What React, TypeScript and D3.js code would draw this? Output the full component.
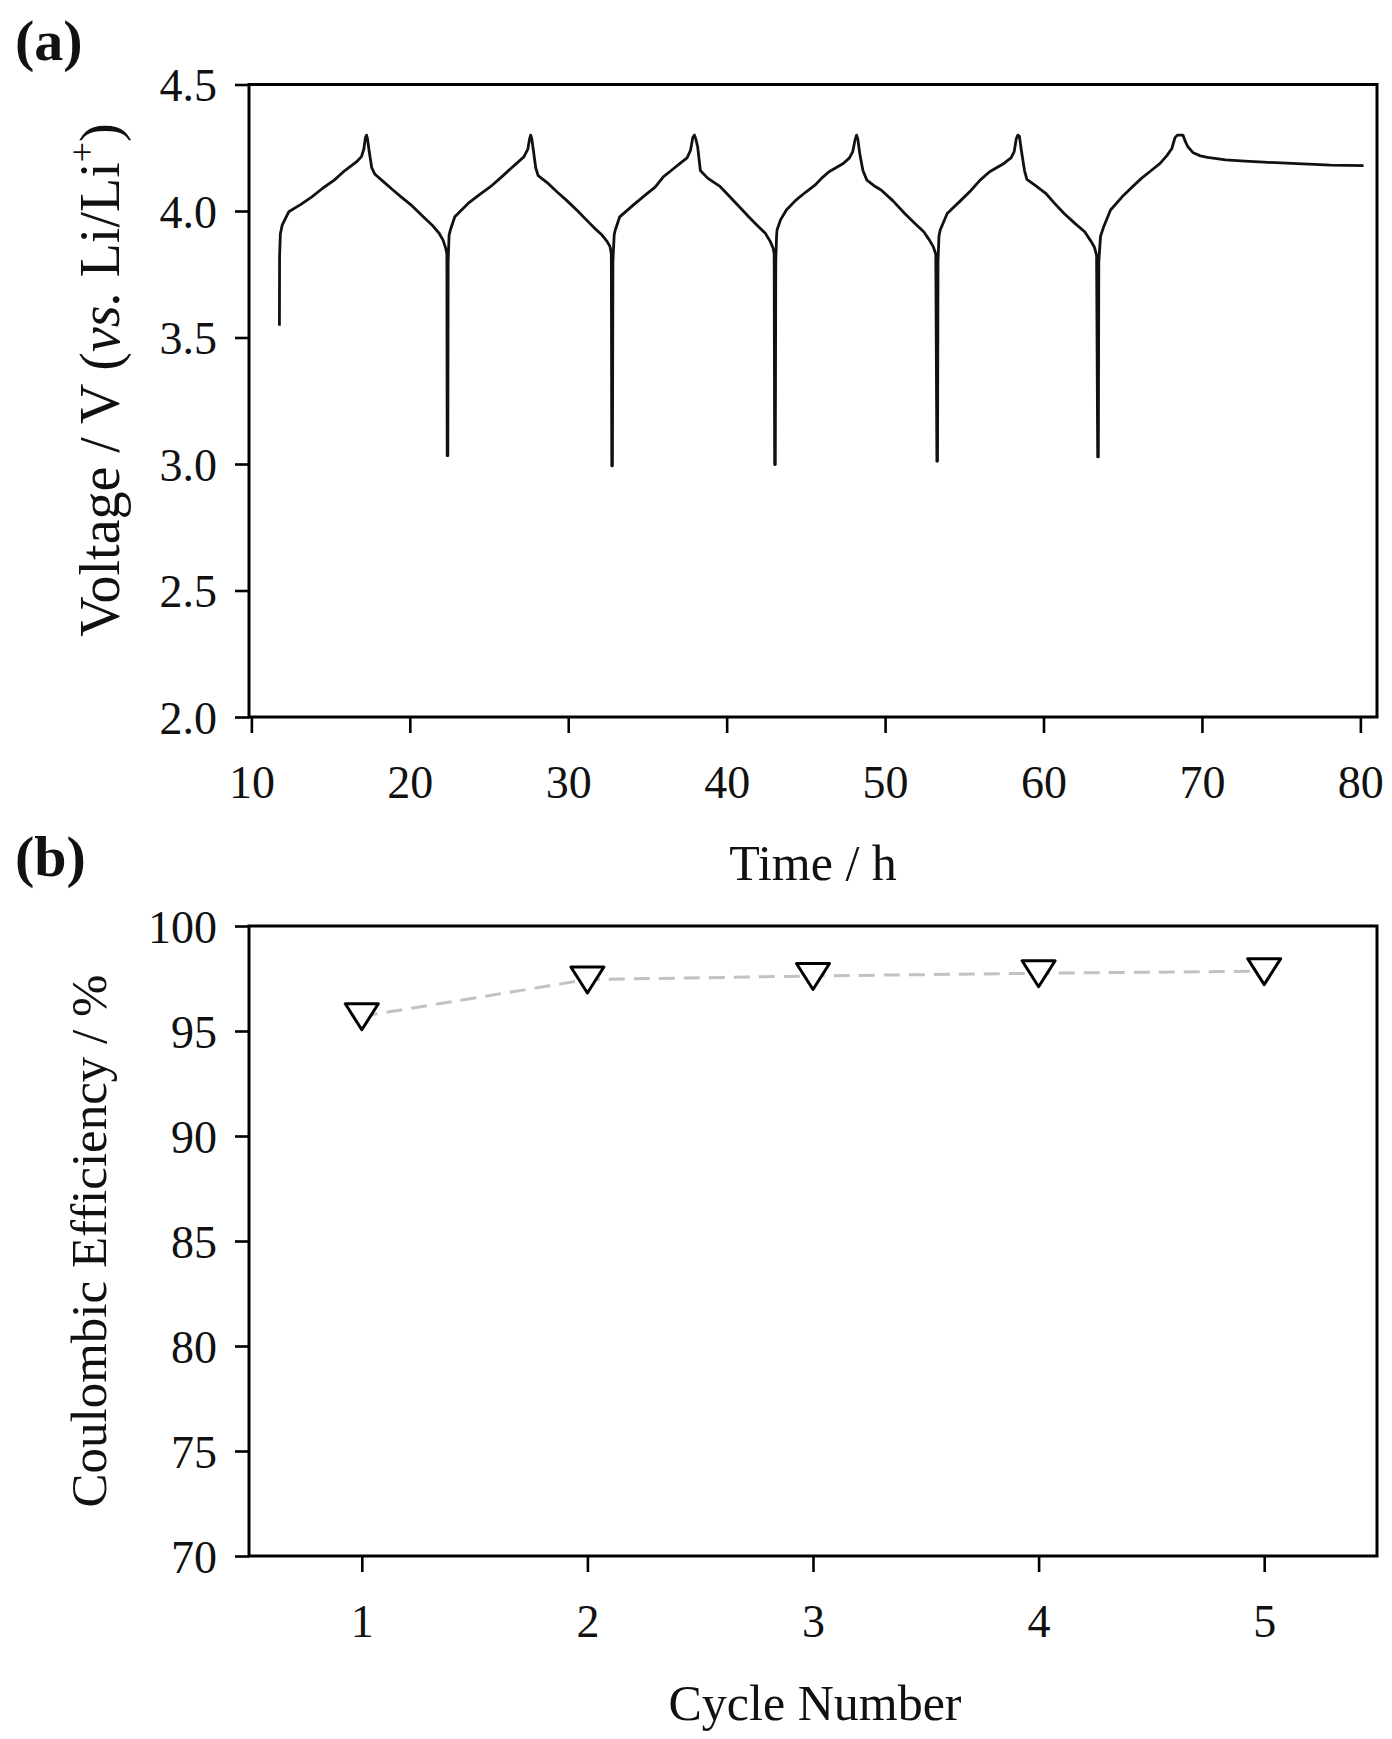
import { useEffect, useRef } from 'react'
import * as d3 from 'd3'

type Pt = [number, number]

// (a) voltage vs time, one array per charge/discharge cycle  [time h, voltage V]
const cycle1: Pt[] = [
  [11.77,3.546],[11.78,3.82],[11.83,3.91],[11.95,3.945],[12.36,3.997],[13.1,4.025],[13.82,4.056],[14.5,4.09],
  [15.23,4.122],[15.9,4.16],[16.63,4.194],[16.95,4.215],[17.1,4.245],[17.2,4.29],[17.27,4.30],[17.33,4.285],
  [17.45,4.23],[17.6,4.17],[17.8,4.145],[18.35,4.115],[18.9,4.085],[19.45,4.056],[20.15,4.02],[20.85,3.977],
  [21.4,3.945],[21.85,3.912],[22.1,3.885],[22.27,3.852],[22.34,3.83],[22.36,3.033],
]
const cycle2: Pt[] = [
  [22.40,3.033],[22.42,3.80],[22.48,3.905],[22.56,3.925],[22.84,3.977],[23.68,4.03],[24.4,4.065],[25.09,4.096],
  [25.8,4.135],[26.5,4.175],[27.2,4.214],[27.45,4.245],[27.56,4.285],[27.63,4.30],[27.7,4.285],[27.8,4.24],
  [27.95,4.17],[28.1,4.14],[28.75,4.108],[29.3,4.075],[29.88,4.043],[30.6,4.0],[31.27,3.957],[31.7,3.93],
  [32.13,3.905],[32.45,3.88],[32.64,3.859],[32.72,3.83],[32.75,2.993],
]
const cycle3: Pt[] = [
  [32.79,2.993],[32.82,3.80],[32.9,3.905],[32.97,3.925],[33.25,3.977],[34.1,4.023],[34.8,4.06],[35.5,4.095],
  [36.0,4.135],[36.5,4.16],[37.06,4.188],[37.5,4.21],[37.72,4.24],[37.86,4.29],[37.97,4.30],[38.05,4.285],
  [38.17,4.254],[38.34,4.16],[38.8,4.13],[39.6,4.096],[40.2,4.056],[40.8,4.017],[41.39,3.977],[41.9,3.945],
  [42.44,3.912],[42.75,3.88],[42.94,3.852],[43.0,3.83],[43.03,2.998],
]
const cycle4: Pt[] = [
  [43.07,2.998],[43.1,3.80],[43.15,3.90],[43.18,3.925],[43.4,3.965],[43.77,4.004],[44.37,4.043],[45.0,4.075],
  [45.57,4.102],[46.0,4.13],[46.46,4.155],[47.36,4.188],[47.75,4.21],[47.96,4.235],[48.1,4.28],[48.2,4.30],
  [48.28,4.285],[48.4,4.227],[48.6,4.16],[48.85,4.122],[49.3,4.1],[49.75,4.083],[50.5,4.04],[51.24,3.99],
  [51.9,3.95],[52.44,3.918],[52.8,3.885],[53.04,3.859],[53.2,3.83],[53.27,3.011],
]
const cycle5: Pt[] = [
  [53.31,3.011],[53.34,3.80],[53.4,3.90],[53.48,3.925],[53.92,3.99],[54.8,4.043],[55.4,4.08],[56.0,4.122],
  [56.6,4.155],[57.5,4.188],[57.95,4.21],[58.15,4.235],[58.28,4.285],[58.38,4.30],[58.48,4.295],[58.6,4.24],
  [58.8,4.16],[58.95,4.125],[59.5,4.1],[60.14,4.07],[60.7,4.03],[61.3,3.99],[62.0,3.95],[62.6,3.918],
  [63.0,3.88],[63.2,3.859],[63.35,3.826],[63.42,3.028],
]
const cycle6: Pt[] = [
  [63.46,3.028],[63.49,3.80],[63.6,3.90],[63.8,3.938],[64.23,4.004],[64.96,4.056],[65.6,4.095],[66.16,4.128],
  [66.8,4.16],[67.36,4.188],[67.8,4.22],[68.1,4.247],[68.3,4.29],[68.45,4.30],[68.8,4.30],[68.95,4.275],
  [69.1,4.255],[69.45,4.23],[69.9,4.218],[70.35,4.212],[71.5,4.202],[72.7,4.197],[73.9,4.193],[75.0,4.19],
  [76.0,4.187],[77.1,4.184],[78.1,4.181],[79.2,4.18],[80.2,4.179],
]
const timeTicks = [10, 20, 30, 40, 50, 60, 70, 80]
const voltageTicks = [2.0, 2.5, 3.0, 3.5, 4.0, 4.5]

// (b) coulombic efficiency per cycle
const cycleNumbers = [1, 2, 3, 4, 5]
const efficiency = [95.7, 97.45, 97.62, 97.75, 97.85]
const ceTicks = [70, 75, 80, 85, 90, 95, 100]

const FONT = '"Liberation Serif", "Times New Roman", serif'

export default function App() {
  const svgRef = useRef<SVGSVGElement>(null)

  useEffect(() => {
    if (!svgRef.current) return
    const svg = d3.select(svgRef.current)
    svg.selectAll('*').remove()

    const L = 249, R = 1377
    const styleAxis = (sel: d3.Selection<any, any, any, any>) => {
      sel.select('.domain').remove()
      sel.selectAll('line').attr('stroke', '#000').attr('stroke-width', 2.6)
      sel.selectAll('text').attr('fill', '#111').attr('font-size', 46).attr('font-family', FONT)
    }

    // ---------- panel (a)
    const aTop = 84.5, aBot = 717
    const xA = d3.scaleLinear().domain([9.85, 81.05]).range([L, R])
    const yA = d3.scaleLinear().domain([2, 4.5]).range([aBot, aTop])

    svg.append('g').attr('transform', `translate(0,${aBot})`)
      .call(d3.axisBottom(xA).tickValues(timeTicks).tickSize(16).tickFormat(d3.format('d')))
      .call(styleAxis)
      .selectAll('text').attr('y', 81).attr('dy', 0)
    svg.append('g').attr('transform', `translate(${L},0)`)
      .call(d3.axisLeft(yA).tickValues(voltageTicks).tickSize(14).tickPadding(18).tickFormat(d3.format('.1f')))
      .call(styleAxis)
      .selectAll('text').attr('dy', '0.35em')

    const all = [...cycle1, ...cycle2, ...cycle3, ...cycle4, ...cycle5, ...cycle6]
    const line = d3.line<Pt>().x(d => xA(d[0])).y(d => yA(d[1]))
    svg.append('path').datum(all).attr('d', line).attr('fill', 'none')
      .attr('stroke', '#111').attr('stroke-width', 2.8).attr('stroke-linejoin', 'round')

    svg.append('rect').attr('x', L).attr('y', aTop).attr('width', R - L).attr('height', aBot - aTop)
      .attr('fill', 'none').attr('stroke', '#000').attr('stroke-width', 3)

    svg.append('text').attr('x', 813).attr('y', 880).attr('text-anchor', 'middle')
      .attr('font-family', FONT).attr('font-size', 50).attr('fill', '#111').text('Time / h')

    const yt = svg.append('text').attr('transform', 'translate(119,380) rotate(-90)')
      .attr('text-anchor', 'middle').attr('font-family', FONT).attr('font-size', 56).attr('fill', '#111')
    yt.append('tspan').text('Voltage / V (')
    yt.append('tspan').attr('font-style', 'italic').text('vs.')
    yt.append('tspan').text(' Li/Li')
    yt.append('tspan').attr('font-size', 36).attr('dy', -25).text('+')
    yt.append('tspan').attr('dy', 25).text(')')

    svg.append('text').attr('x', 15).attr('y', 60).attr('font-family', FONT).attr('font-weight', 'bold')
      .attr('font-size', 58).attr('fill', '#111').text('(a)')

    // ---------- panel (b)
    const bTop = 926, bBot = 1556
    const xB = d3.scaleLinear().domain([0.5, 5.5]).range([L, R])
    const yB = d3.scaleLinear().domain([70, 100]).range([bBot, bTop])

    svg.append('g').attr('transform', `translate(0,${bBot})`)
      .call(d3.axisBottom(xB).tickValues(cycleNumbers).tickSize(16).tickFormat(d3.format('d')))
      .call(styleAxis)
      .selectAll('text').attr('y', 81).attr('dy', 0)
    svg.append('g').attr('transform', `translate(${L},0)`)
      .call(d3.axisLeft(yB).tickValues(ceTicks).tickSize(14).tickPadding(18).tickFormat(d3.format('d')))
      .call(styleAxis)
      .selectAll('text').attr('dy', '0.35em')

    const ce = cycleNumbers.map((c, i) => [c, efficiency[i]] as Pt)
    const ceLine = d3.line<Pt>().x(d => xB(d[0])).y(d => yB(d[1]))
    svg.append('path').datum(ce).attr('d', ceLine).attr('fill', 'none')
      .attr('stroke', '#c2c2c2').attr('stroke-width', 3).attr('stroke-dasharray', '16 9')

    const tri = 'M-16.5,-12.5L16.5,-12.5L0,13.5Z'
    svg.append('g').selectAll('path').data(ce).join('path')
      .attr('d', tri).attr('transform', d => `translate(${xB(d[0])},${yB(d[1])})`)
      .attr('fill', '#fff').attr('stroke', '#000').attr('stroke-width', 3).attr('stroke-linejoin', 'round')

    svg.append('rect').attr('x', L).attr('y', bTop).attr('width', R - L).attr('height', bBot - bTop)
      .attr('fill', 'none').attr('stroke', '#000').attr('stroke-width', 3)

    svg.append('text').attr('x', 815).attr('y', 1720).attr('text-anchor', 'middle')
      .attr('font-family', FONT).attr('font-size', 50).attr('fill', '#111').text('Cycle Number')

    svg.append('text').attr('transform', 'translate(106,1241) rotate(-90)')
      .attr('text-anchor', 'middle').attr('font-family', FONT).attr('font-size', 51).attr('fill', '#111')
      .text('Coulombic Efficiency / %')

    svg.append('text').attr('x', 15).attr('y', 876).attr('font-family', FONT).attr('font-weight', 'bold')
      .attr('font-size', 58).attr('fill', '#111').text('(b)')
  }, [])

  return (
    <svg ref={svgRef} width={1392} height={1739}
      style={{ position: 'absolute', left: 0, top: 0, background: '#fff' }} />
  )
}
